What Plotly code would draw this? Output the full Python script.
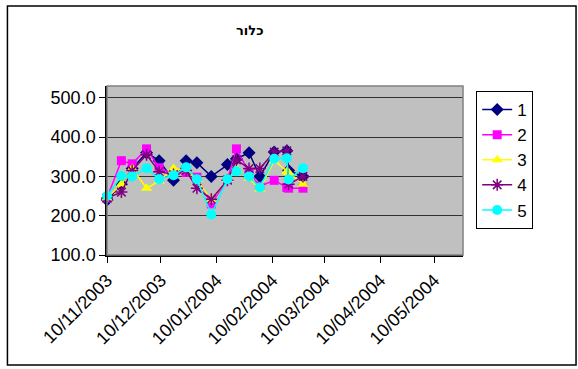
import plotly.graph_objects as go

# Sampling dates (dd/mm/yyyy readings) and chlorine values for the five sampling points
dates = ["2003-11-10", "2003-11-18", "2003-11-24", "2003-12-02", "2003-12-09",
         "2003-12-17", "2003-12-24", "2003-12-30", "2004-01-07", "2004-01-16",
         "2004-01-21", "2004-01-28", "2004-02-03", "2004-02-11", "2004-02-18",
         "2004-02-19", "2004-02-27"]

s1 = [240, 280, 320, 360, 340, 290, 340, 335, 300, 330, 345, 360, 300, 362, 365, 315, 300]
s2 = [245, 340, 332, 370, 322, 305, 310, 298, 230, 292, 370, 310, 275, 290, 272, 270, 270]
s3 = [245, 280, 320, 270, 288, 320, 315, 292, 240, 292, 320, 295, 268, 340, 312, 310, 280]
s4 = [245, 260, 315, 355, 312, 305, 315, 270, 242, 290, 342, 320, 320, 362, 365, 280, 300]
s5 = [250, 301, 300, 321, 293, 303, 323, 293, 203, 293, 313, 300, 272, 345, 346, 292, 321]

series_names = ["1", "2", "3", "4", "5"]

x_tick_vals = ["2003-11-10", "2003-12-10", "2004-01-10", "2004-02-10",
               "2004-03-10", "2004-04-10", "2004-05-10"]
x_tick_text = ["10/11/2003", "10/12/2003", "10/01/2004", "10/02/2004",
               "10/03/2004", "10/04/2004", "10/05/2004"]
y_tick_vals = [100, 200, 300, 400, 500]
y_tick_text = ["100.0", "200.0", "300.0", "400.0", "500.0"]

title_text = "כלור"

FONT = "Liberation Sans, Arial, sans-serif"
W, H = 578, 369
ML, MR, MT, MB = 107, 114.5, 86, 114
PW = W - ML - MR
PH = H - MT - MB

styles = [
    dict(color="#000080", symbol="diamond", size=10, line=dict(width=0)),
    dict(color="#FF00FF", symbol="square", size=9, line=dict(width=0)),
    dict(color="#FFFF00", symbol="triangle-up", size=10, line=dict(width=0)),
    dict(color="#800080", symbol="asterisk", size=10, line=dict(width=1.5, color="#800080")),
    dict(color="#00FFFF", symbol="circle", size=10, line=dict(width=0)),
]
line_colors = ["#000080", "#FF00FF", "#FFFF00", "#800080", "#00FFFF"]

fig = go.Figure()
for name, vals, mk, lc in zip(series_names, [s1, s2, s3, s4, s5], styles, line_colors):
    fig.add_trace(go.Scatter(
        x=dates, y=vals, name=name, mode="lines+markers",
        line=dict(color=lc, width=1.5), marker=mk,
        cliponaxis=False,
    ))


def px_to_paper_x(px):
    return (px - ML) / PW


def px_to_paper_y(py):
    return (H - MB - py) / PH


shapes = [
    # plot-area frame
    dict(type="rect", xref="paper", yref="paper", x0=0, x1=1, y0=0, y1=1,
         line=dict(color="#808080", width=1.5), fillcolor="rgba(0,0,0,0)"),
    # chart-area frame
    dict(type="rect", xref="paper", yref="paper",
         x0=px_to_paper_x(7.3), x1=px_to_paper_x(576.7),
         y0=px_to_paper_y(365), y1=px_to_paper_y(6),
         line=dict(color="#000000", width=1.5), fillcolor="rgba(0,0,0,0)"),
]

fig.update_layout(
    width=W, height=H,
    margin=dict(l=ML, r=MR, t=MT, b=MB, pad=0),
    paper_bgcolor="white",
    plot_bgcolor="#C0C0C0",
    font=dict(family=FONT, size=18, color="black"),
    showlegend=True,
    legend=dict(
        x=px_to_paper_x(476.7), y=px_to_paper_y(91), xanchor="left", yanchor="top",
        bordercolor="black", borderwidth=1, bgcolor="white",
        font=dict(family=FONT, size=17, color="black"),
        itemwidth=30, traceorder="normal",
    ),
    shapes=shapes,
    annotations=[dict(
        text="<b>" + title_text + "</b>", xref="paper", yref="paper",
        x=px_to_paper_x(250), y=px_to_paper_y(31), xanchor="center", yanchor="middle",
        showarrow=False,
        font=dict(family="DejaVu Sans, sans-serif", size=13, color="black"),
    )],
)

fig.update_xaxes(
    type="date", range=["2003-11-10", "2004-05-26"],
    tickmode="array", tickvals=x_tick_vals, ticktext=x_tick_text,
    tickangle=-45, ticks="outside", ticklen=6, tickcolor="black", tickwidth=1,
    showline=True, linecolor="black", linewidth=1.5, showgrid=False, zeroline=False,
    tickfont=dict(family=FONT, size=18, color="black"),
)
fig.update_yaxes(
    range=[100, 530],
    tickmode="array", tickvals=y_tick_vals, ticktext=y_tick_text,
    ticks="outside", ticklen=6, tickcolor="black", tickwidth=1,
    showline=True, linecolor="black", linewidth=1.5,
    showgrid=True, gridcolor="#333333", gridwidth=1.2, zeroline=False,
    tickfont=dict(family=FONT, size=18, color="black"),
)

fig.write_html("out.html")
